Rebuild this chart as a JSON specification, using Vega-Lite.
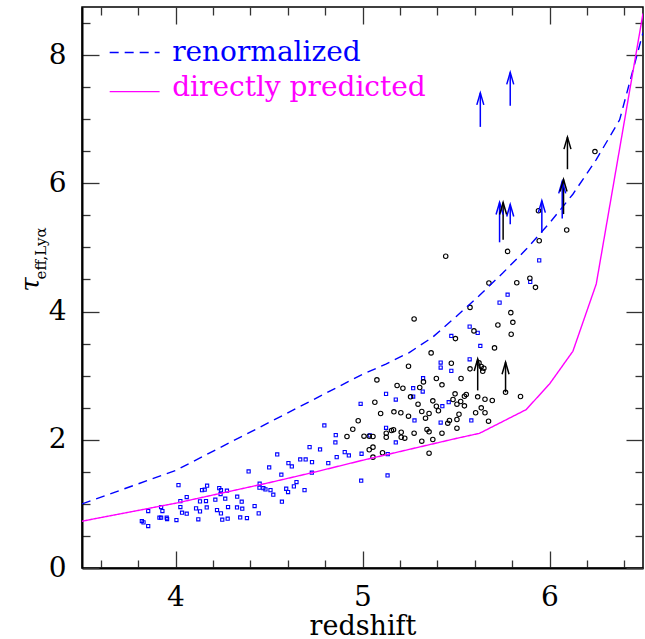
{
  "$schema": "https://vega.github.io/schema/vega-lite/v6.json",
  "width": 561,
  "height": 561,
  "autosize": {"type": "none"},
  "padding": {"left": 82, "top": 7, "right": 2, "bottom": 71},
  "background": "white",
  "config": {
    "view": {"stroke": "black", "strokeWidth": 1.5},
    "axis": {"grid": false, "domain": false, "labelFont": "DejaVu Serif", "titleFont": "DejaVu Serif", "labelColor": "black", "titleColor": "black", "tickColor": "#333", "tickWidth": 1.3, "titleFontWeight": "normal"}
  },
  "resolve": {"axis": {"x": "independent", "y": "independent"}, "scale": {"color": "independent", "strokeDash": "independent"}},
  "datasets": {
    "squares": [
      {"z":3.820,"tau":0.732},{"z":3.829,"tau":0.712},{"z":3.854,"tau":0.654},{"z":3.854,"tau":0.888},{"z":3.923,"tau":0.950},{"z":3.930,"tau":0.888},{"z":3.914,"tau":0.785},{"z":3.923,"tau":0.785},{"z":3.953,"tau":0.785},{"z":3.955,"tau":0.763},
      {"z":4.005,"tau":0.748},{"z":4.016,"tau":1.293},{"z":4.026,"tau":1.044},{"z":4.026,"tau":0.950},{"z":4.035,"tau":0.863},{"z":4.060,"tau":1.106},{"z":4.060,"tau":0.847},{"z":4.110,"tau":0.930},{"z":4.122,"tau":0.759},{"z":4.131,"tau":1.039},
      {"z":4.131,"tau":0.883},{"z":4.142,"tau":1.215},{"z":4.156,"tau":1.221},{"z":4.163,"tau":1.044},{"z":4.169,"tau":1.283},{"z":4.167,"tau":0.945},{"z":4.213,"tau":1.065},{"z":4.222,"tau":0.904},{"z":4.234,"tau":1.246},{"z":4.243,"tau":1.215},
      {"z":4.241,"tau":1.153},{"z":4.243,"tau":0.852},{"z":4.266,"tau":1.081},{"z":4.275,"tau":1.205},{"z":4.281,"tau":0.950},{"z":4.279,"tau":0.769},{"z":4.250,"tau":0.754},{"z":4.330,"tau":1.112},{"z":4.329,"tau":0.945},{"z":4.354,"tau":1.034},
      {"z":4.357,"tau":0.925},{"z":4.346,"tau":0.789},{"z":4.382,"tau":0.779},{"z":4.391,"tau":1.506},{"z":4.423,"tau":0.966},{"z":4.445,"tau":0.852},{"z":4.450,"tau":1.315},{"z":4.449,"tau":1.252},{"z":4.470,"tau":1.246},{"z":4.481,"tau":1.226},
      {"z":4.501,"tau":1.568},{"z":4.508,"tau":1.215},{"z":4.523,"tau":1.143},{"z":4.544,"tau":1.771},{"z":4.566,"tau":1.455},{"z":4.569,"tau":1.034},{"z":4.592,"tau":1.236},{"z":4.602,"tau":1.184},{"z":4.604,"tau":1.636},{"z":4.622,"tau":1.584},
      {"z":4.633,"tau":1.273},{"z":4.647,"tau":1.340},{"z":4.667,"tau":1.693},{"z":4.696,"tau":1.693},{"z":4.690,"tau":1.215},{"z":4.717,"tau":1.885},{"z":4.730,"tau":1.651},{"z":4.729,"tau":1.486},{"z":4.773,"tau":1.849},{"z":4.796,"tau":2.223},
      {"z":4.817,"tau":1.636},{"z":4.857,"tau":2.072},{"z":4.855,"tau":1.958},{"z":4.862,"tau":1.729},{"z":4.905,"tau":1.807},{"z":4.927,"tau":1.755},{"z":4.990,"tau":2.561},{"z":4.993,"tau":1.361},{"z":4.995,"tau":1.782},{"z":5.039,"tau":2.067},
      {"z":5.126,"tau":2.716},{"z":5.126,"tau":2.187},{"z":5.134,"tau":1.444},{"z":5.135,"tau":1.776},{"z":5.178,"tau":2.628},{"z":5.178,"tau":1.958},{"z":5.271,"tau":2.804},{"z":5.271,"tau":2.674},{"z":5.278,"tau":2.301},{"z":5.322,"tau":2.752},
      {"z":5.418,"tau":2.269},{"z":5.427,"tau":2.523},{"z":5.461,"tau":2.586},{"z":5.582,"tau":2.301},{"z":5.945,"tau":4.798},{"z":5.776,"tau":4.263},{"z":5.733,"tau":4.139},{"z":5.897,"tau":4.461},{"z":5.573,"tau":3.765},{"z":5.616,"tau":3.667},
      {"z":5.475,"tau":3.620},{"z":5.630,"tau":3.464},{"z":5.573,"tau":3.255},{"z":5.418,"tau":3.204},{"z":5.418,"tau":3.126},{"z":5.475,"tau":3.075},{"z":5.324,"tau":2.960}
    ],
    "circles": [
      {"z":5.945,"tau":5.104},{"z":5.776,"tau":4.938},{"z":5.445,"tau":4.863},{"z":5.676,"tau":4.445},{"z":5.825,"tau":4.450},{"z":5.895,"tau":4.520},{"z":5.925,"tau":4.377},{"z":5.793,"tau":3.983},{"z":5.804,"tau":3.832},{"z":5.575,"tau":4.065},
      {"z":5.724,"tau":3.791},{"z":5.795,"tau":3.645},{"z":5.276,"tau":3.885},{"z":5.497,"tau":3.578},{"z":5.596,"tau":3.698},{"z":5.706,"tau":3.433},{"z":5.367,"tau":3.355},{"z":5.246,"tau":3.147},{"z":5.475,"tau":3.193},{"z":5.077,"tau":2.934},
      {"z":5.395,"tau":2.955},{"z":5.527,"tau":2.955},{"z":5.185,"tau":2.846},{"z":5.216,"tau":2.804},{"z":5.326,"tau":2.903},{"z":5.425,"tau":2.857},{"z":5.306,"tau":2.815},{"z":5.257,"tau":2.670},{"z":5.066,"tau":2.586},{"z":5.097,"tau":2.410},
      {"z":5.376,"tau":2.607},{"z":5.395,"tau":2.523},{"z":5.406,"tau":2.452},{"z":5.495,"tau":2.716},{"z":5.484,"tau":2.628},{"z":5.505,"tau":2.555},{"z":5.525,"tau":2.597},{"z":5.545,"tau":2.529},{"z":5.555,"tau":2.706},{"z":5.545,"tau":2.679},
      {"z":5.297,"tau":2.555},{"z":5.317,"tau":2.441},{"z":5.356,"tau":2.410},{"z":5.337,"tau":2.337},{"z":5.168,"tau":2.436},{"z":5.205,"tau":2.421},{"z":5.246,"tau":2.368},{"z":5.456,"tau":2.259},{"z":5.465,"tau":2.301},{"z":5.505,"tau":2.316},
      {"z":5.516,"tau":2.399},{"z":5.605,"tau":2.421},{"z":5.655,"tau":2.421},{"z":5.635,"tau":2.498},{"z":5.674,"tau":2.290},{"z":5.616,"tau":2.670},{"z":5.655,"tau":2.632},{"z":5.694,"tau":2.612},{"z":5.845,"tau":2.674},{"z":4.977,"tau":2.296},
      {"z":4.948,"tau":2.165},{"z":4.917,"tau":2.051},{"z":5.008,"tau":2.056},{"z":5.036,"tau":2.056},{"z":5.056,"tau":2.051},{"z":5.127,"tau":2.103},{"z":5.127,"tau":2.040},{"z":5.155,"tau":2.145},{"z":5.166,"tau":2.156},{"z":5.207,"tau":2.118},
      {"z":5.207,"tau":2.040},{"z":5.226,"tau":2.025},{"z":5.276,"tau":2.103},{"z":5.345,"tau":2.160},{"z":5.356,"tau":2.124},{"z":5.376,"tau":2.005},{"z":5.425,"tau":2.103},{"z":5.505,"tau":2.181},{"z":5.575,"tau":3.106},{"z":5.623,"tau":3.199},
      {"z":5.635,"tau":3.142},{"z":5.649,"tau":3.115},{"z":5.643,"tau":3.069},{"z":5.036,"tau":1.844},{"z":5.056,"tau":1.885},{"z":5.056,"tau":1.729},{"z":5.107,"tau":1.798},{"z":5.317,"tau":1.978},{"z":5.356,"tau":1.791},{"z":6.243,"tau":6.495},
      {"z":6.092,"tau":5.271},{"z":5.941,"tau":5.572},{"z":5.765,"tau":2.740}
    ],
    "curves": [
      {"model":"renormalized","z":3.5,"tau":1.00},{"model":"renormalized","z":4.0,"tau":1.52},{"model":"renormalized","z":4.5,"tau":2.27},{"model":"renormalized","z":5.0,"tau":3.02},{"model":"renormalized","z":5.125,"tau":3.18},{"model":"renormalized","z":5.25,"tau":3.36},{"model":"renormalized","z":5.375,"tau":3.60},{"model":"renormalized","z":5.5,"tau":3.92},{"model":"renormalized","z":5.625,"tau":4.25},{"model":"renormalized","z":5.75,"tau":4.60},{"model":"renormalized","z":5.875,"tau":4.97},{"model":"renormalized","z":6.0,"tau":5.38},{"model":"renormalized","z":6.125,"tau":5.83},{"model":"renormalized","z":6.25,"tau":6.37},{"model":"renormalized","z":6.375,"tau":6.99},{"model":"renormalized","z":6.5,"tau":8.35},
      {"model":"directly predicted","z":3.5,"tau":0.73},{"model":"directly predicted","z":4.0,"tau":1.01},{"model":"directly predicted","z":4.5,"tau":1.33},{"model":"directly predicted","z":4.75,"tau":1.50},{"model":"directly predicted","z":5.0,"tau":1.68},{"model":"directly predicted","z":5.25,"tau":1.85},{"model":"directly predicted","z":5.5,"tau":2.02},{"model":"directly predicted","z":5.625,"tau":2.10},{"model":"directly predicted","z":5.875,"tau":2.47},{"model":"directly predicted","z":6.0,"tau":2.87},{"model":"directly predicted","z":6.125,"tau":3.38},{"model":"directly predicted","z":6.25,"tau":4.43},{"model":"directly predicted","z":6.5,"tau":8.65}
    ],
    "arrows": [
      {"set":"blue","z":5.630,"base":6.88,"tip":7.41},
      {"set":"blue","z":5.790,"base":7.21,"tip":7.73},
      {"set":"blue","z":5.733,"base":5.08,"tip":5.70},
      {"set":"blue","z":5.790,"base":5.36,"tip":5.67},
      {"set":"blue","z":5.959,"base":5.23,"tip":5.73},
      {"set":"blue","z":6.068,"base":5.45,"tip":6.03},
      {"set":"black","z":5.752,"base":5.12,"tip":5.70},
      {"set":"black","z":6.075,"base":5.52,"tip":6.06},
      {"set":"black","z":6.096,"base":6.22,"tip":6.72},
      {"set":"black","z":5.616,"base":2.77,"tip":3.26},
      {"set":"black","z":5.765,"base":2.74,"tip":3.21}
    ],
    "legend": [
      {"model":"renormalized","z":3.648,"tau":8.04},{"model":"renormalized","z":3.915,"tau":8.04},
      {"model":"directly predicted","z":3.648,"tau":7.43},{"model":"directly predicted","z":3.915,"tau":7.43}
    ],
    "legendText": [
      {"model":"renormalized","z":3.982,"tau":7.90},
      {"model":"directly predicted","z":3.982,"tau":7.363}
    ],
    "ytitle": [
      {"part":"main","z":3.2285,"tau":4.42,"label":"τ"},
      {"part":"sub","z":3.283,"tau":4.907,"label":"eff,Lyα"}
    ]
  },
  "layer": [
    {
      "data": {"name": "squares"},
      "mark": {"type": "point", "shape": "square", "filled": false, "size": 10, "strokeWidth": 1.1, "color": "#0000ff", "opacity": 1},
      "encoding": {
        "x": {"field": "z", "type": "quantitative", "scale": {"domain": [3.5, 6.5], "nice": false, "zero": false},
              "axis": {"orient": "bottom", "values": [4, 5, 6], "labels": false, "tickSize": -17, "title": null}},
        "y": {"field": "tau", "type": "quantitative", "scale": {"domain": [0, 8.75], "nice": false, "zero": false},
              "axis": {"orient": "left", "values": [0, 2, 4, 6, 8], "labels": false, "tickSize": -17, "title": null}}
      }
    },
    {
      "data": {"name": "circles"},
      "mark": {"type": "point", "shape": "circle", "filled": false, "size": 20, "strokeWidth": 1.1, "color": "black", "opacity": 1},
      "encoding": {
        "x": {"field": "z", "type": "quantitative", "scale": {"domain": [3.5, 6.5], "nice": false, "zero": false},
              "axis": {"orient": "bottom", "values": [3.6, 3.8, 4.2, 4.4, 4.6, 4.8, 5.2, 5.4, 5.6, 5.8, 6.2, 6.4], "labels": false, "tickSize": -8, "title": null}},
        "y": {"field": "tau", "type": "quantitative", "scale": {"domain": [0, 8.75], "nice": false, "zero": false},
              "axis": {"orient": "left", "values": [0.5, 1, 1.5, 2.5, 3, 3.5, 4.5, 5, 5.5, 6.5, 7, 7.5, 8.5], "labels": false, "tickSize": -8, "title": null}}
      }
    },
    {
      "data": {"name": "curves"},
      "mark": {"type": "line", "strokeWidth": 1.4, "clip": true},
      "encoding": {
        "x": {"field": "z", "type": "quantitative", "scale": {"domain": [3.5, 6.5], "nice": false, "zero": false},
              "axis": {"orient": "bottom", "values": [4, 5, 6], "ticks": false, "labelFontSize": 28, "labelPadding": 15, "title": "redshift", "titleFontSize": 27, "titlePadding": 2, "domain": true, "domainColor": "black", "domainWidth": 2}},
        "y": {"field": "tau", "type": "quantitative", "scale": {"domain": [0, 8.75], "nice": false, "zero": false},
              "axis": {"orient": "left", "values": [0, 2, 4, 6, 8], "ticks": false, "labelFontSize": 28, "labelPadding": 16, "title": null, "domain": true, "domainColor": "black", "domainWidth": 2}},
        "color": {"field": "model", "type": "nominal", "scale": {"domain": ["renormalized", "directly predicted"], "range": ["#0000ff", "#ff00ff"]}, "legend": null},
        "strokeDash": {"field": "model", "type": "nominal", "scale": {"domain": ["renormalized", "directly predicted"], "range": [[9, 6], [1, 0]]}, "legend": null},
        "order": {"field": "z", "type": "quantitative"}
      }
    },
    {
      "data": {"name": "arrows"},
      "mark": {"type": "rule", "strokeWidth": 1.5},
      "encoding": {
        "x": {"field": "z", "type": "quantitative", "scale": {"domain": [3.5, 6.5], "nice": false, "zero": false},
              "axis": {"orient": "top", "values": [4, 5, 6], "labels": false, "tickSize": -17, "title": null}},
        "y": {"field": "base", "type": "quantitative", "scale": {"domain": [0, 8.75], "nice": false, "zero": false},
              "axis": {"orient": "right", "values": [0, 2, 4, 6, 8], "labels": false, "tickSize": -17, "title": null}},
        "y2": {"field": "tip"},
        "color": {"field": "set", "type": "nominal", "scale": {"domain": ["black", "blue"], "range": ["#000000", "#0000ff"]}, "legend": null}
      }
    },
    {
      "data": {"name": "arrows"},
      "mark": {"type": "point", "shape": "M -0.7 2.4 L 0 0 L 0.7 2.4", "filled": false, "size": 100, "strokeWidth": 1.5, "opacity": 1},
      "encoding": {
        "x": {"field": "z", "type": "quantitative", "scale": {"domain": [3.5, 6.5], "nice": false, "zero": false},
              "axis": {"orient": "top", "values": [3.6, 3.8, 4.2, 4.4, 4.6, 4.8, 5.2, 5.4, 5.6, 5.8, 6.2, 6.4], "labels": false, "tickSize": -8, "title": null}},
        "y": {"field": "tip", "type": "quantitative", "scale": {"domain": [0, 8.75], "nice": false, "zero": false},
              "axis": {"orient": "right", "values": [0.5, 1, 1.5, 2.5, 3, 3.5, 4.5, 5, 5.5, 6.5, 7, 7.5, 8.5], "labels": false, "tickSize": -8, "title": null}},
        "color": {"field": "set", "type": "nominal", "scale": {"domain": ["black", "blue"], "range": ["#000000", "#0000ff"]}, "legend": null}
      }
    },
    {
      "data": {"name": "legend"},
      "mark": {"type": "line", "strokeWidth": 1.4},
      "encoding": {
        "x": {"field": "z", "type": "quantitative", "axis": null},
        "y": {"field": "tau", "type": "quantitative", "axis": null},
        "color": {"field": "model", "type": "nominal", "scale": {"domain": ["renormalized", "directly predicted"], "range": ["#0000ff", "#ff00ff"]}, "legend": null},
        "strokeDash": {"field": "model", "type": "nominal", "scale": {"domain": ["renormalized", "directly predicted"], "range": [[9, 6], [1, 0]]}, "legend": null}
      }
    },
    {
      "data": {"name": "legendText"},
      "mark": {"type": "text", "align": "left", "baseline": "alphabetic", "font": "DejaVu Serif", "fontSize": 28},
      "encoding": {
        "x": {"field": "z", "type": "quantitative", "axis": null},
        "y": {"field": "tau", "type": "quantitative", "axis": null},
        "text": {"field": "model"},
        "color": {"field": "model", "type": "nominal", "scale": {"domain": ["renormalized", "directly predicted"], "range": ["#0000ff", "#ff00ff"]}, "legend": null}
      }
    },
    {
      "data": {"name": "ytitle"},
      "transform": [{"filter": "datum.part == 'main'"}],
      "mark": {"type": "text", "align": "center", "baseline": "middle", "angle": 270, "font": "DejaVu Serif", "fontStyle": "italic", "fontSize": 26, "color": "black"},
      "encoding": {
        "x": {"field": "z", "type": "quantitative", "axis": null},
        "y": {"field": "tau", "type": "quantitative", "axis": null},
        "text": {"field": "label"}
      }
    },
    {
      "data": {"name": "ytitle"},
      "transform": [{"filter": "datum.part == 'sub'"}],
      "mark": {"type": "text", "align": "center", "baseline": "middle", "angle": 270, "font": "DejaVu Serif", "fontSize": 15, "color": "black"},
      "encoding": {
        "x": {"field": "z", "type": "quantitative", "axis": null},
        "y": {"field": "tau", "type": "quantitative", "axis": null},
        "text": {"field": "label"}
      }
    }
  ]
}
